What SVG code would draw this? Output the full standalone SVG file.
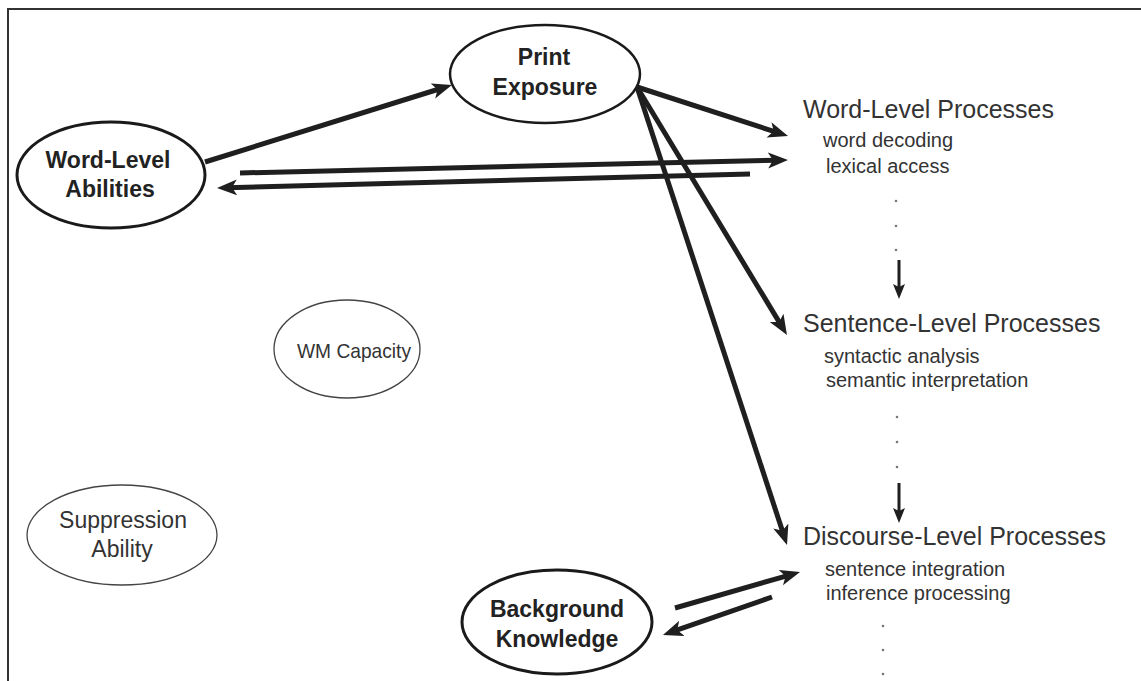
<svg xmlns="http://www.w3.org/2000/svg" width="1141" height="681" viewBox="0 0 1141 681">
  <defs>
    <style>
      .frame { fill: none; stroke: #333; stroke-width: 2; }
      .node-strong { fill: #fff; stroke: #1a1a1a; stroke-width: 3; }
      .node-light { fill: #fff; stroke: #444; stroke-width: 1.3; }
      .lbl-bold { font-family: "Liberation Sans", Arial, sans-serif; font-weight: bold; font-size: 23px; fill: #222; text-anchor: middle; }
      .lbl { font-family: "Liberation Sans", Arial, sans-serif; font-size: 23px; fill: #333; text-anchor: middle; }
      .proc { font-family: "Liberation Sans", Arial, sans-serif; font-size: 25px; fill: #333; }
      .sub { font-family: "Liberation Sans", Arial, sans-serif; font-size: 20px; fill: #333; }
      .conn { fill: none; stroke: #1f1f1f; stroke-width: 5; marker-end: url(#head); }
      .step { fill: none; stroke: #1f1f1f; stroke-width: 3; marker-end: url(#head-small); }
      .dot { fill: #777; }
    </style>
    <marker id="head" markerUnits="userSpaceOnUse" markerWidth="22" markerHeight="18" refX="10" refY="8" orient="auto">
      <path d="M0,0 L20,8 L0,16 L5,8 Z" fill="#1f1f1f"/>
    </marker>
    <marker id="head-small" markerUnits="userSpaceOnUse" markerWidth="16" markerHeight="14" refX="6" refY="6" orient="auto">
      <path d="M0,0 L15,6 L0,12 L3,6 Z" fill="#1f1f1f"/>
    </marker>
  </defs>

  <rect width="1141" height="681" fill="#fff"/>

  <!-- outer frame (top and left edges) -->
  <path class="frame" d="M8,681 L8,9 L1141,9"/>

  <!-- connectors -->
  <g id="connectors">
    <line class="conn" x1="205" y1="162" x2="442.4" y2="88"/>
    <line class="conn" x1="637" y1="87" x2="778.5" y2="132.9"/>
    <line class="conn" x1="240" y1="173" x2="778" y2="160.2"/>
    <line class="conn" x1="750" y1="174" x2="227" y2="187.7"/>
    <line class="conn" x1="637" y1="87" x2="781.8" y2="326.4"/>
    <line class="conn" x1="637" y1="87" x2="783.9" y2="535.5"/>
    <line class="conn" x1="675" y1="608" x2="790.4" y2="574.8"/>
    <line class="conn" x1="772" y1="597" x2="672.4" y2="631.7"/>
    <line class="step" x1="899" y1="260" x2="899" y2="290"/>
    <line class="step" x1="899" y1="483" x2="899" y2="514"/>
  </g>

  <!-- ellipse nodes -->
  <g id="word-level-abilities">
    <ellipse class="node-strong" cx="111" cy="175" rx="94" ry="53"/>
    <text class="lbl-bold" x="108" y="168">Word-Level</text>
    <text class="lbl-bold" x="110" y="197">Abilities</text>
  </g>

  <g id="print-exposure">
    <ellipse class="node-strong" cx="545" cy="74" rx="95" ry="49" style="stroke-width:2.5"/>
    <text class="lbl-bold" x="544" y="65">Print</text>
    <text class="lbl-bold" x="545" y="95">Exposure</text>
  </g>

  <g id="wm-capacity">
    <ellipse class="node-light" cx="347" cy="349" rx="73" ry="49"/>
    <text class="lbl" x="354" y="358" style="font-size:21px" textLength="114" lengthAdjust="spacingAndGlyphs">WM Capacity</text>
  </g>

  <g id="suppression-ability">
    <ellipse class="node-light" cx="122" cy="535" rx="95" ry="50"/>
    <text class="lbl" x="123" y="528">Suppression</text>
    <text class="lbl" x="122" y="557">Ability</text>
  </g>

  <g id="background-knowledge">
    <ellipse class="node-strong" cx="557" cy="622" rx="95" ry="52"/>
    <text class="lbl-bold" x="557" y="617">Background</text>
    <text class="lbl-bold" x="557" y="647">Knowledge</text>
  </g>

  <!-- processing levels -->
  <g id="word-level-processes">
    <text class="proc" x="803" y="118">Word-Level Processes</text>
    <text class="sub" x="823" y="147">word decoding</text>
    <text class="sub" x="826" y="173">lexical access</text>
    <circle class="dot" cx="896" cy="201" r="1.3"/>
    <circle class="dot" cx="896" cy="226" r="1.3"/>
    <circle class="dot" cx="896" cy="250" r="1.3"/>
  </g>

  <g id="sentence-level-processes">
    <text class="proc" x="803" y="332">Sentence-Level Processes</text>
    <text class="sub" x="824" y="363">syntactic analysis</text>
    <text class="sub" x="826" y="387">semantic interpretation</text>
    <circle class="dot" cx="897" cy="417" r="1.3"/>
    <circle class="dot" cx="897" cy="442" r="1.3"/>
    <circle class="dot" cx="897" cy="467" r="1.3"/>
  </g>

  <g id="discourse-level-processes">
    <text class="proc" x="803" y="545">Discourse-Level Processes</text>
    <text class="sub" x="825" y="576">sentence integration</text>
    <text class="sub" x="826" y="600">inference processing</text>
    <circle class="dot" cx="883" cy="626" r="1.3"/>
    <circle class="dot" cx="883" cy="650" r="1.3"/>
    <circle class="dot" cx="883" cy="674" r="1.3"/>
  </g>
</svg>
